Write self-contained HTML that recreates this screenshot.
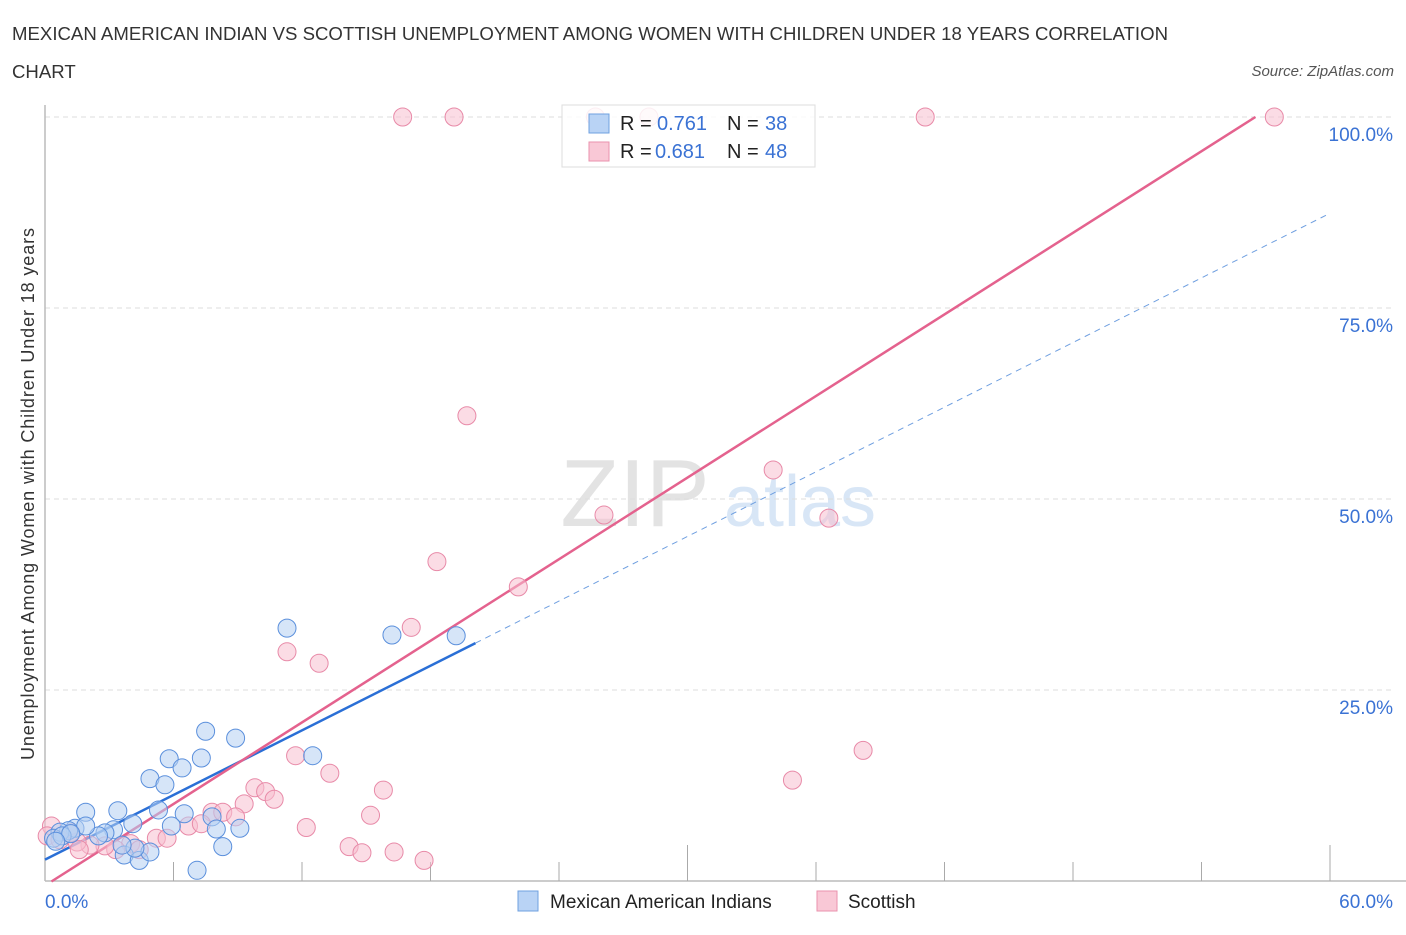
<!DOCTYPE html>
<html><head><meta charset="utf-8"><style>
body{margin:0;background:#fff;font-family:"Liberation Sans",sans-serif;}
svg text{font-family:"Liberation Sans",sans-serif;}
</style></head><body>
<svg width="1406" height="930" viewBox="0 0 1406 930" xmlns="http://www.w3.org/2000/svg">
<text x="12" y="40" font-size="18.6" fill="#333" textLength="1156">MEXICAN AMERICAN INDIAN VS SCOTTISH UNEMPLOYMENT AMONG WOMEN WITH CHILDREN UNDER 18 YEARS CORRELATION</text>
<text x="12" y="78" font-size="18.6" fill="#333">CHART</text>
<text x="1394" y="76" font-size="15" fill="#555" font-style="italic" text-anchor="end">Source: ZipAtlas.com</text>
<g>
<text x="635" y="526" font-size="96" fill="#ddd" font-family="Liberation Serif" text-anchor="middle" opacity="0.8">ZIP</text>
<text x="800" y="526" font-size="72" fill="#cfe0f5" text-anchor="middle" opacity="0.8">atlas</text>
</g>
<g id="grid"></g>
<g id="axes"></g>
<g id="lines"></g>
<g id="pts"></g>
<text transform="translate(34,494) rotate(-90)" font-size="18" fill="#333" text-anchor="middle" textLength="532">Unemployment Among Women with Children Under 18 years</text>
<g>
<rect x="562" y="105" width="253" height="62" fill="#fff" fill-opacity="0.85" stroke="#ddd"/>
<rect x="589" y="114" width="20" height="19" fill="#b9d3f5" stroke="#6fa0e0"/>
<rect x="589" y="142" width="20" height="19" fill="#f9c8d6" stroke="#ea92ad"/>
<text x="620" y="130" font-size="20" fill="#222">R =</text>
<text x="657" y="130" font-size="20" fill="#3a72d4">0.761</text>
<text x="727" y="130" font-size="20" fill="#222">N =</text>
<text x="765" y="130" font-size="20" fill="#3a72d4">38</text>
<text x="620" y="158" font-size="20" fill="#222">R =</text>
<text x="655" y="158" font-size="20" fill="#3a72d4">0.681</text>
<text x="727" y="158" font-size="20" fill="#222">N =</text>
<text x="765" y="158" font-size="20" fill="#3a72d4">48</text>
</g>
<g>
<rect x="518" y="891" width="20" height="20" fill="#b9d3f5" stroke="#6fa0e0"/>
<text x="550" y="908" font-size="19" fill="#222">Mexican American Indians</text>
<rect x="817" y="891" width="20" height="20" fill="#f9c8d6" stroke="#ea92ad"/>
<text x="848" y="908" font-size="19" fill="#222">Scottish</text>
</g>
<script>
const xTicks=[0,60];
const yTicks=[25,50,75,100];
const blueX=[11.3,16.2,19.2,12.5,7.5,8.9,5.8,6.4,7.3,4.9,5.6,5.3,3.4,1.9,6.5,7.8,4.1,5.9,8.0,9.1,3.2,2.8,2.5,1.4,1.9,1.1,0.7,0.4,0.8,1.2,3.7,4.4,4.9,8.3,7.1,4.2,3.6,0.5];
const blueY=[33.1,32.2,32.1,16.4,19.6,18.7,16.0,14.8,16.1,13.4,12.6,9.3,9.2,9.0,8.8,8.4,7.5,7.2,6.8,6.9,6.7,6.3,5.9,6.9,7.2,6.6,6.4,5.6,5.9,6.2,3.4,2.7,3.8,4.5,1.4,4.3,4.7,5.2];
const pinkX=[16.7,19.1,41.1,57.4,25.7,28.2,19.7,34.0,26.1,36.6,18.3,22.1,17.1,11.3,12.8,11.7,13.3,38.2,34.9,9.8,10.3,15.8,10.7,9.3,7.8,8.3,15.2,8.9,12.2,6.7,7.3,5.2,5.7,14.2,14.8,16.3,17.7,4.0,3.3,2.8,2.1,1.5,1.2,0.3,0.1,4.4,0.7,1.6];
const pinkY=[100,100,100,100,100,100,60.9,53.8,47.9,47.5,41.8,38.5,33.2,30.0,28.5,16.4,14.1,17.1,13.2,12.2,11.7,11.9,10.7,10.1,9.0,9.0,8.6,8.4,7.0,7.2,7.5,5.6,5.6,4.5,3.7,3.8,2.7,4.9,4.1,4.6,4.7,5.1,6.3,7.2,5.9,4.1,5.4,4.1];
const blueFit=[2.8,1.41];
const pinkFit=[-0.6,1.78];
const X=v=>45+v*(1285/60), Y=v=>881-v*7.64;
const NS='http://www.w3.org/2000/svg';
function mk(t,a,p){const e=document.createElementNS(NS,t);for(const k in a)e.setAttribute(k,a[k]);p.appendChild(e);return e;}
const g=document.getElementById('grid'),ax=document.getElementById('axes');
yTicks.forEach(v=>{const l=mk('line',{x1:45,x2:1395,y1:Y(v),y2:Y(v),stroke:'#ddd','stroke-dasharray':'5,4'},g);


const t=mk('text',{x:1393,y:Y(v)+24,'font-size':19,fill:'#3a72d4','text-anchor':'end'},ax);t.textContent=v.toFixed(1)+'%';

});
mk('line',{x1:45,x2:45,y1:105,y2:881,stroke:'#bbb','stroke-width':1.5},ax);
mk('line',{x1:45,x2:1406,y1:881,y2:881,stroke:'#bbb','stroke-width':1.5},ax);
for(let i=1;i<=10;i++){const v=i*6;const tk=mk('line',{x1:X(v),x2:X(v),y1:(i%5==0)?845:862,y2:881,stroke:'#aaa'},ax);

}
xTicks.forEach((v,i)=>{const t=mk('text',{x:i?1393:45,y:908,'font-size':19,fill:'#3a72d4','text-anchor':i?'end':'start'},ax);t.textContent=v.toFixed(1)+'%';

});
const pg=document.getElementById('pts');
function pts(xs,ys,f,s,n){xs.forEach((x,i)=>{const c=mk('circle',{cx:X(x),cy:Y(ys[i]),r:9,fill:f,stroke:s,'stroke-width':1,'fill-opacity':0.55},pg);

});}
pts(pinkX,pinkY,'#f7c0d0','#e88aa8','scottish-point');
pts(blueX,blueY,'#b5d0f3','#5a8fdc','mexican-american-indian-point');
const lg=document.getElementById('lines');
const bx2=20.1;
const b1=mk('line',{x1:X(0),y1:Y(blueFit[0]),x2:X(bx2),y2:Y(blueFit[0]+blueFit[1]*bx2),stroke:'#2a6fd6','stroke-width':2.5},lg);


const b2=mk('line',{x1:X(bx2),y1:Y(blueFit[0]+blueFit[1]*bx2),x2:X(60),y2:Y(blueFit[0]+blueFit[1]*60),stroke:'#6f9fe0','stroke-width':1,'stroke-dasharray':'6,5'},lg);


const px1=0.3, px2=(100-pinkFit[0])/pinkFit[1];
const p1=mk('line',{x1:X(px1),y1:Y(pinkFit[0]+pinkFit[1]*px1),x2:X(px2),y2:Y(100),stroke:'#e4628e','stroke-width':2.5},lg);


</script>
</svg>
</body></html>
